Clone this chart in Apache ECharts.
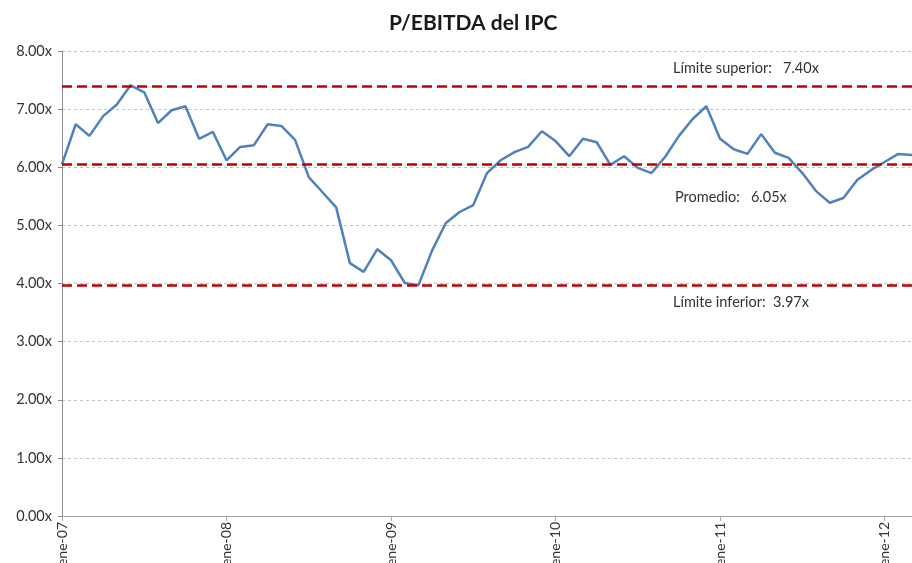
<!DOCTYPE html>
<html lang="es">

<head>
    <meta charset="UTF-8">
    <title>P/EBITDA del IPC</title>
    <script src="https://cdn.jsdelivr.net/npm/echarts@6/dist/echarts.min.js"></script>
    <style>
        html, body { margin: 0; padding: 0; background: #fff; }
    </style>
</head>

<body>
    <div id="main" style="width: 912px;height:563px;"></div>
    <script type="text/javascript">
        // meses (ene-07 ... mar-12)
        var mesesAbrev = ['ene', 'feb', 'mar', 'abr', 'may', 'jun', 'jul', 'ago', 'sep', 'oct', 'nov', 'dic'];
        var anios = ['07', '08', '09', '10', '11', '12'];

        // P/EBITDA mensual
        var pEbitda = [
            6.05, 6.74, 6.54, 6.88, 7.08, 7.41, 7.29, 6.76, 6.98, 7.05, 6.49, 6.61,
            6.12, 6.35, 6.38, 6.74, 6.71, 6.47, 5.83, 5.57, 5.31, 4.35, 4.20, 4.59,
            4.40, 4.01, 3.97, 4.57, 5.04, 5.23, 5.35, 5.90, 6.12, 6.26, 6.35, 6.62,
            6.45, 6.19, 6.49, 6.43, 6.04, 6.19, 5.99, 5.90, 6.18, 6.54, 6.83, 7.05,
            6.49, 6.31, 6.23, 6.57, 6.25, 6.16, 5.90, 5.59, 5.39, 5.47, 5.78, 5.95,
            6.09, 6.23, 6.21
        ];

        // limites y promedio
        var limiteSuperior = 7.40;
        var promedio = 6.05;
        var limiteInferior = 3.97;

        var categorias = [];
        for (var i = 0; i < pEbitda.length; i++) {
            categorias.push(mesesAbrev[i % 12] + '-' + anios[Math.floor(i / 12)]);
        }

        var fuente = 'Lato';
        var fmt = function (v) { return v.toFixed(2) + 'x'; };

        var myChart = echarts.init(document.getElementById('main'));

        var option = {
            backgroundColor: '#ffffff',
            animation: false,
            title: {
                text: 'P/EBITDA del IPC',
                left: 384,
                top: 8,
                textStyle: { fontFamily: fuente, fontSize: 21, fontWeight: 'bold', color: '#1a1a1a' }
            },
            // las etiquetas del eje x se cortan abajo, como en el original
            grid: { left: 62, right: 0, top: 51, bottom: 47, containLabel: false, outerBoundsMode: 'none' },
            xAxis: {
                type: 'category',
                data: categorias,
                boundaryGap: false,
                axisLine: { lineStyle: { color: '#a6a6a6', width: 1 } },
                axisTick: { show: true, interval: 11, length: 5, lineStyle: { color: '#a6a6a6' } },
                axisLabel: {
                    interval: 11, rotate: 90, margin: 6,
                    fontFamily: fuente, fontSize: 14, color: '#333'
                },
                splitLine: { show: false }
            },
            yAxis: {
                type: 'value',
                min: 0, max: 8, interval: 1,
                axisLine: { show: true, lineStyle: { color: '#8c8c8c', width: 1 } },
                axisTick: { show: true, length: 4, lineStyle: { color: '#8c8c8c' } },
                axisLabel: {
                    formatter: fmt, margin: 10,
                    fontFamily: fuente, fontSize: 14.5, color: '#333'
                },
                splitLine: { lineStyle: { color: '#c4c4c4', type: [3, 3], width: 1 } }
            },
            series: [{
                type: 'line',
                data: pEbitda,
                symbol: 'none',
                lineStyle: { color: '#4f81bd', width: 2.5 },
                itemStyle: { color: '#4f81bd' },
                markLine: {
                    silent: true,
                    symbol: 'none',
                    label: { show: false },
                    lineStyle: { color: '#c00000', type: [10, 5], width: 2.5 },
                    data: [{ yAxis: limiteSuperior }, { yAxis: promedio }, { yAxis: limiteInferior }]
                }
            }],
            graphic: [
                { type: 'text', left: 673, top: 61, style: { text: 'Límite superior:   ' + fmt(limiteSuperior), fontFamily: fuente, fontSize: 14.5, fill: '#333' } },
                { type: 'text', left: 675, top: 190, style: { text: 'Promedio:   ' + fmt(promedio), fontFamily: fuente, fontSize: 14.5, fill: '#333' } },
                { type: 'text', left: 673, top: 295, style: { text: 'Límite inferior:  ' + fmt(limiteInferior), fontFamily: fuente, fontSize: 14.5, fill: '#333' } }
            ]
        };

        myChart.setOption(option);
    </script>
</body>

</html>
